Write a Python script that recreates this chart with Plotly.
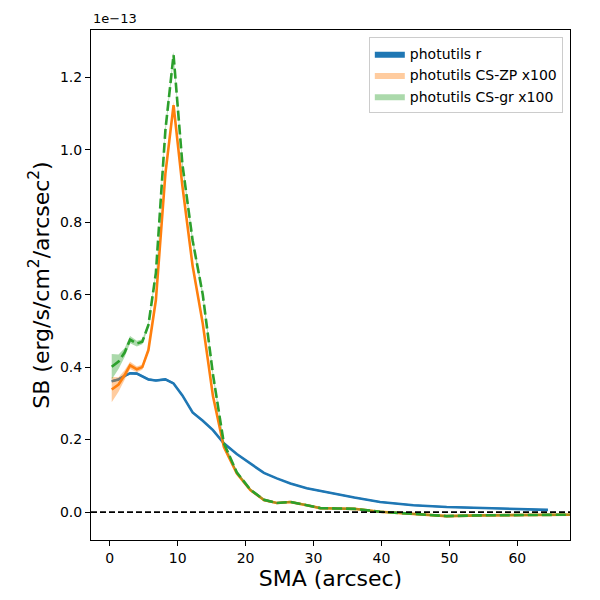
import plotly.graph_objects as go

# SMA grid (arcsec) and surface brightness profiles, in units of 1e-13 erg/s/cm2/arcsec2
sma = [0.3, 1.3, 2.2, 3.0, 4.0, 4.8, 5.7, 6.8, 8.2, 9.4, 10.7, 12.2, 13.7, 15.2,
       16.8, 18.7, 20.7, 22.7, 24.6, 26.6, 29.0, 31.0, 33.5, 36.0, 39.8, 44.7,
       49.6, 54.5, 59.5, 64.5, 69.0]

sb_r = [0.361, 0.366, 0.376, 0.383, 0.382, 0.375, 0.366, 0.363, 0.366, 0.355,
        0.322, 0.275, 0.252, 0.226, 0.190, 0.160, 0.134, 0.108, 0.093, 0.079,
        0.066, 0.058, 0.048, 0.040, 0.028, 0.019, 0.014, 0.011, 0.008, 0.006, None]
err_r = [0.003, 0.003, 0.003, 0.003, 0.003, 0.003, 0.003, 0.003, 0.003, 0.003,
         0.003, 0.003, 0.003, 0.003, 0.003, 0.002, 0.002, 0.002, 0.002, 0.002,
         0.002, 0.002, 0.002, 0.002, 0.002, 0.002, 0.002, 0.002, 0.002, 0.002, None]

sb_zp = [0.338, 0.352, 0.378, 0.405, 0.394, 0.400, 0.447, 0.585, 0.934, 1.123,
         0.900, 0.680, 0.520, 0.320, 0.180, 0.107, 0.061, 0.033, 0.025, 0.028,
         0.019, 0.011, 0.010, 0.009, 0.001, -0.005, -0.011, -0.009, -0.008, -0.007, -0.007]
err_zp = [0.035, 0.020, 0.013, 0.010, 0.008, 0.007, 0.007, 0.008, 0.010, 0.010,
          0.010, 0.010, 0.009, 0.008, 0.006, 0.005, 0.004, 0.004, 0.003, 0.003,
          0.003, 0.003, 0.003, 0.003, 0.003, 0.003, 0.003, 0.003, 0.003, 0.003, 0.003]

sb_gr = [0.401, 0.415, 0.440, 0.476, 0.465, 0.470, 0.516, 0.660, 1.054, 1.261,
         0.960, 0.750, 0.600, 0.380, 0.190, 0.110, 0.062, 0.034, 0.025, 0.028,
         0.019, 0.011, 0.010, 0.009, 0.001, -0.005, -0.011, -0.009, -0.008, -0.007, -0.007]
err_gr = [0.035, 0.020, 0.012, 0.010, 0.008, 0.007, 0.007, 0.008, 0.010, 0.010,
          0.010, 0.010, 0.009, 0.008, 0.006, 0.005, 0.004, 0.004, 0.003, 0.003,
          0.003, 0.003, 0.003, 0.003, 0.003, 0.003, 0.003, 0.003, 0.003, 0.003, 0.003]

series = [
    ("photutils r", sb_r, err_r, "#1f77b4", "#1f77b4", "solid"),
    ("photutils CS-ZP x100", sb_zp, err_zp, "#ff7f0e", "rgba(255,127,14,0.4)", "solid"),
    ("photutils CS-gr x100", sb_gr, err_gr, "#2ca02c", "rgba(44,160,44,0.4)", "10px,4px"),
]

fig = go.Figure()
for name, y, err, col, fillcol, dash in series:
    xs = [x for x, v in zip(sma, y) if v is not None]
    ys = [v for v in y if v is not None]
    es = [e for e in err if e is not None]
    lo = [v - e for v, e in zip(ys, es)]
    hi = [v + e for v, e in zip(ys, es)]
    fig.add_trace(go.Scatter(
        x=xs + xs[::-1], y=hi + lo[::-1], fill="toself", fillcolor=fillcol,
        mode="lines", line=dict(width=0), name=name, hoverinfo="skip"))
    fig.add_trace(go.Scatter(
        x=xs, y=ys, mode="lines", line=dict(color=col, width=2.6, dash=dash),
        showlegend=False))

# zero line
fig.add_shape(type="line", xref="paper", yref="y", x0=0, x1=1, y0=0, y1=0,
              line=dict(color="black", width=1.8, dash="6px,3px"))

fig.add_annotation(text="1e\u221213", xref="paper", yref="paper", x=0, y=1,
                   xanchor="left", yanchor="bottom", showarrow=False,
                   font=dict(size=13, color="black"), yshift=2)

axis_style = dict(showline=True, linecolor="black", linewidth=1, mirror=True,
                  ticks="outside", ticklen=5, tickcolor="black", showgrid=False,
                  zeroline=False, tickfont=dict(size=14, color="black"))

# page body adds an 8px offset, so margins are shifted to compensate
fig.update_layout(
    width=600, height=600,
    margin=dict(l=83, r=38, t=22, b=68),
    plot_bgcolor="white", paper_bgcolor="white",
    font=dict(family="DejaVu Sans", color="black"),
    xaxis=dict(range=[-2.75, 67.75], tickvals=[0, 10, 20, 30, 40, 50, 60],
               title=dict(text="SMA (arcsec)", font=dict(size=22), standoff=5),
               **axis_style),
    yaxis=dict(range=[-0.077, 1.33], tickvals=[0.0, 0.2, 0.4, 0.6, 0.8, 1.0, 1.2],
               tickformat=".1f",
               title=dict(text="SB (erg/s/cm<sup>2</sup>/arcsec<sup>2</sup>)",
                          font=dict(size=22), standoff=4),
               **axis_style),
    legend=dict(x=0.985, y=0.986, xanchor="right", yanchor="top",
                bordercolor="#cccccc", borderwidth=1, bgcolor="rgba(255,255,255,0.8)",
                font=dict(size=14, color="black")),
    showlegend=True,
)

fig.write_html("out.html")
